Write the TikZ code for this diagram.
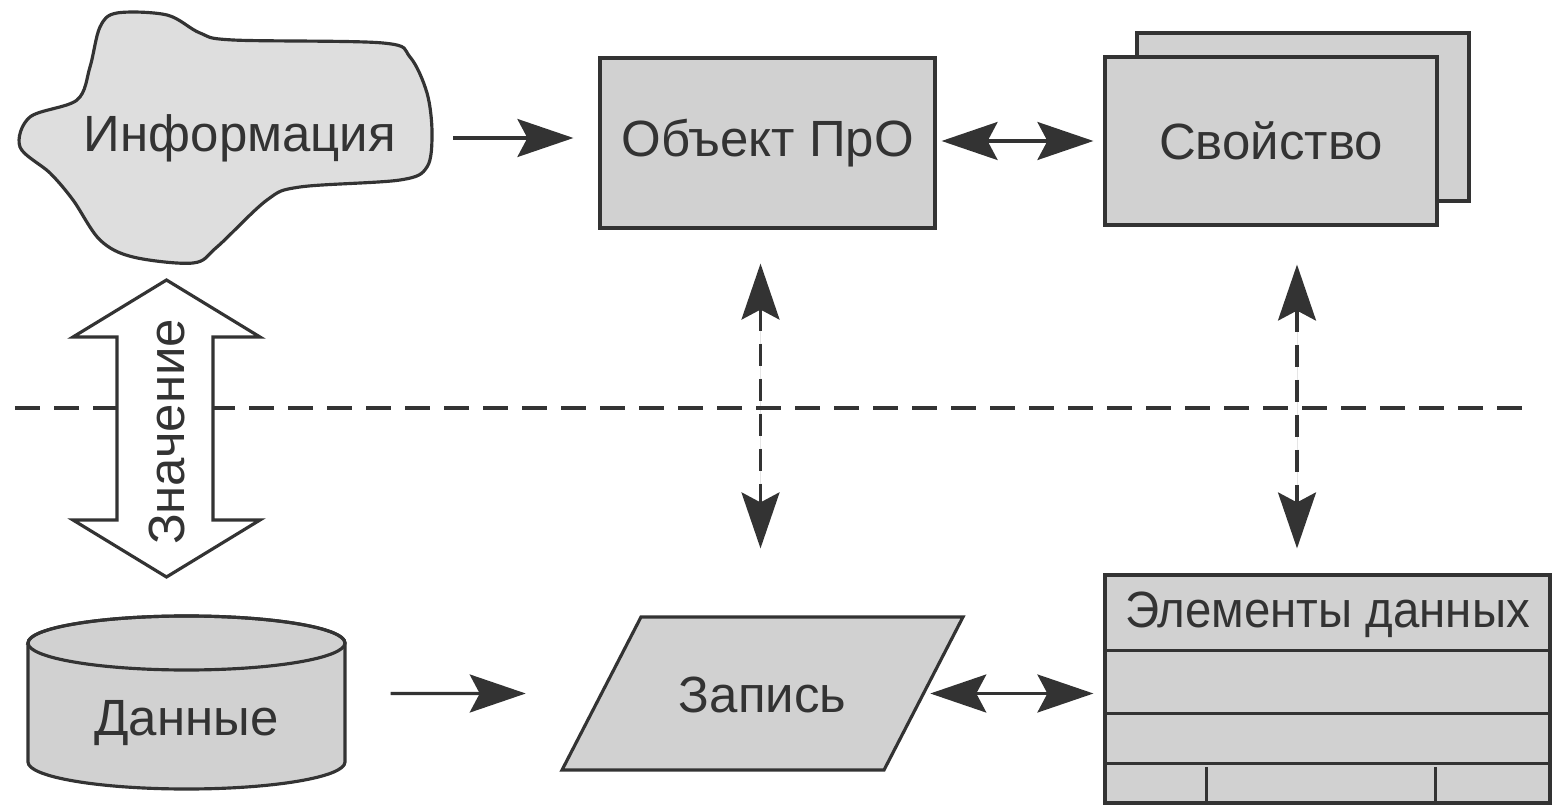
\documentclass[tikz,border=0pt]{standalone}
\usepackage{fontspec}
\setmainfont{Liberation Sans}
\usetikzlibrary{arrows.meta,shapes.geometric,shadows}
\definecolor{boxgray}{gray}{0.82}
\definecolor{cloudgray}{gray}{0.87}
\definecolor{ink}{gray}{0.2}

\begin{document}
\begin{tikzpicture}[
        font=\fontsize{14.5}{17}\selectfont, text=ink,
        >={Stealth[length=0.56cm, width=0.38cm, inset=0.1cm]},
        box/.style={draw=ink, line width=0.9pt, fill=boxgray},
        link/.style={draw=ink, fill=ink, line width=0.9pt},
        dlink/.style={link, dash pattern=on 0.22cm off 0.13cm}
    ]
        \useasboundingbox (0,0) rectangle (15.56,-8.06);

        % Separator
        \draw[ink, line width=0.9pt, dash pattern=on 0.25cm off 0.14cm] (0.15,-4.08) -- (15.35,-4.08);

        % Information
        \draw[draw=ink, line width=0.9pt, fill=cloudgray] plot[smooth cycle, tension=0.55] coordinates {
            (0.90,-0.67) (1.00,-0.27) (1.17,-0.13) (1.67,-0.15) (2.00,-0.33) (2.33,-0.40)
            (3.83,-0.43) (4.10,-0.57) (4.27,-0.93) (4.32,-1.33) (4.27,-1.67) (4.00,-1.80)
            (3.00,-1.87) (2.67,-2.00) (2.17,-2.47) (1.93,-2.63) (1.33,-2.57) (1.00,-2.40)
            (0.73,-2.00) (0.50,-1.73) (0.20,-1.47) (0.30,-1.17) (0.77,-1.00)};
        \node (info) at (2.40,-1.38) {Информация};

        % Object
        \node[box, minimum width=3.35cm, minimum height=1.70cm] (obj) at (7.675,-1.43) {Объект ПрО};

        % Property
        \node[box, minimum width=3.32cm, minimum height=1.68cm,
            copy shadow={shadow xshift=0.32cm, shadow yshift=0.24cm, fill=boxgray, draw=ink, line width=0.9pt}]
            (prop) at (12.71,-1.41) {Свойство};

        % Value
        \draw[draw=ink, line width=0.9pt, fill=white] (1.665,-2.80) -- (2.60,-3.37) -- (2.13,-3.37) -- (2.13,-5.20)
            -- (2.60,-5.20) -- (1.665,-5.77) -- (0.73,-5.20) -- (1.17,-5.20) -- (1.17,-3.37) -- (0.73,-3.37) -- cycle;
        \node[rotate=90] (val) at (1.665,-4.32) {Значение};

        % Data
        \draw[draw=ink, line width=0.9pt, fill=boxgray] (0.28,-6.43) -- (0.28,-7.62)
            arc[start angle=180, end angle=360, x radius=1.585cm, y radius=0.27cm] -- (3.45,-6.43)
            arc[start angle=0, end angle=180, x radius=1.585cm, y radius=0.27cm] -- cycle;
        \draw[ink, line width=0.9pt] (1.865,-6.43) ellipse[x radius=1.585cm, y radius=0.27cm];
        \node[minimum width=3.17cm] (dat) at (1.865,-7.23) {Данные};

        % Record
        \node[box, trapezium, trapezium left angle=62.7, trapezium right angle=117.3, inner sep=0pt,
            text width=2.43cm, align=center, text height=0.95cm, text depth=0.58cm] (zap) at (7.625,-6.935) {Запись};

        % Data elements
        \node[box, minimum width=4.45cm, minimum height=2.28cm] (elem) at (13.275,-6.89) {};
        \node (elemtxt) at (13.275,-6.15) {\scalebox{0.93}[1]{Элементы данных}};
        \draw[ink, line width=0.9pt] ([yshift=-0.77cm]elem.north west) -- ([yshift=-0.77cm]elem.north east);
        \draw[ink, line width=0.9pt] ([yshift=-1.40cm]elem.north west) -- ([yshift=-1.40cm]elem.north east);
        \draw[ink, line width=0.9pt] ([yshift=-1.90cm]elem.north west) -- ([yshift=-1.90cm]elem.north east);
        \draw[ink, line width=0.9pt] ([xshift=1.03cm]elem.south west) -- ++(0,0.38);
        \draw[ink, line width=0.9pt] ([xshift=3.32cm]elem.south west) -- ++(0,0.38);

        % Links
        \draw[link, ->, shorten <=0.45cm, shorten >=0.25cm] (info.east) -- (info.east -| obj.west);
        \draw[link, <->, shorten <=0.05cm, shorten >=0.10cm] (obj.east |- prop) -- (prop.west);
        \draw[dlink, <->, shorten <=0.34cm, shorten >=0.67cm] ([xshift=-0.07cm]obj.south) -- ([xshift=-0.07cm]obj.south |- zap.north);
        \draw[dlink, <->, shorten <=0.38cm, shorten >=0.25cm] ([xshift=0.26cm]prop.south) -- ([xshift=0.26cm]prop.south |- elem.north);
        \draw[link, ->, shorten <=0.45cm, shorten >=0.74cm] (dat.east |- zap) -- (zap.west);
        \draw[link, <->, shorten <=0.05cm, shorten >=0.10cm] (zap.east) -- (zap.east -| elem.west);
    \end{tikzpicture}
\end{document}
